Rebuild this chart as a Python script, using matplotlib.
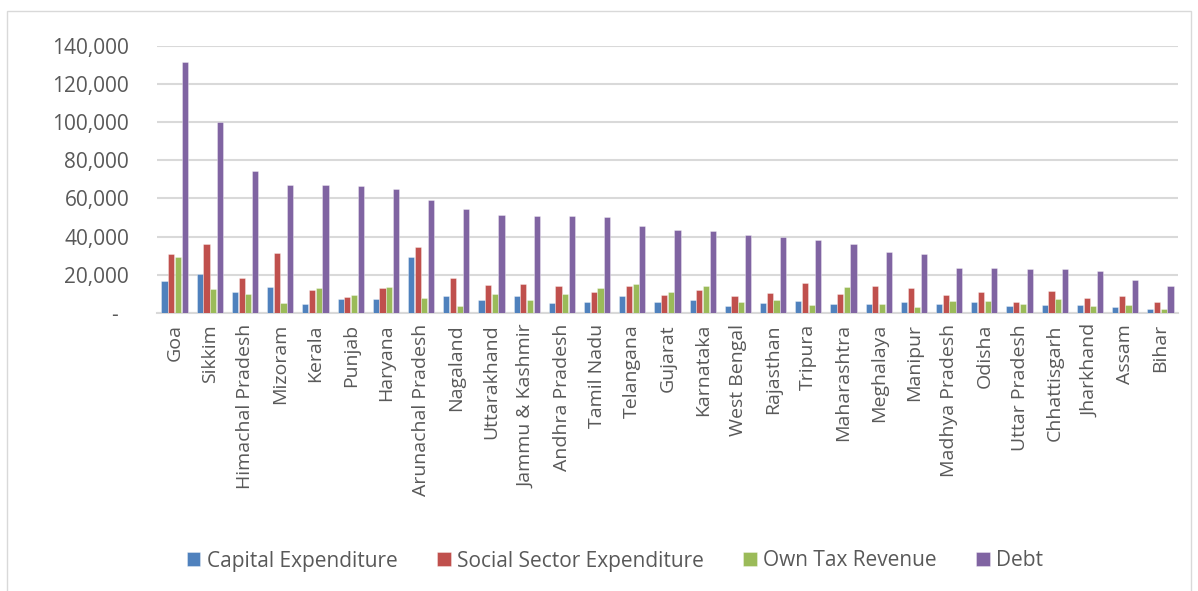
import matplotlib
matplotlib.use("Agg")
import matplotlib.pyplot as plt
import numpy as np
from matplotlib.ticker import FuncFormatter, MultipleLocator
from matplotlib.patches import Rectangle

states = ["Goa", "Sikkim", "Himachal Pradesh", "Mizoram", "Kerala", "Punjab", "Haryana",
          "Arunachal Pradesh", "Nagaland", "Uttarakhand", "Jammu & Kashmir", "Andhra Pradesh",
          "Tamil Nadu", "Telangana", "Gujarat", "Karnataka", "West Bengal", "Rajasthan",
          "Tripura", "Maharashtra", "Meghalaya", "Manipur", "Madhya Pradesh", "Odisha",
          "Uttar Pradesh", "Chhattisgarh", "Jharkhand", "Assam", "Bihar"]

capital_exp = [16900, 20600, 10800, 13800, 4900, 7200, 7200, 29100, 8900, 6800, 8900, 5400,
               5800, 8900, 5800, 6600, 3700, 5100, 6100, 4500, 4900, 5900, 4500, 5600,
               3700, 4300, 4200, 3300, 2300]
social_exp = [30700, 36000, 18200, 31200, 12000, 8200, 12900, 34700, 18500, 14800, 15200, 14000,
              10800, 14000, 9600, 12000, 8900, 10300, 15900, 9800, 14000, 13100, 9300, 10800,
              5800, 11700, 8000, 8900, 5800]
own_tax = [29100, 12600, 10100, 5100, 13300, 9400, 13800, 7700, 3700, 9900, 6600, 9900,
           12900, 15300, 10800, 14000, 5600, 6800, 4300, 13400, 4700, 3000, 6100, 6300,
           4700, 7200, 3800, 4200, 2300]
debt = [131600, 99800, 74300, 66800, 66800, 66300, 64700, 59200, 54300, 51300, 50900, 50600,
        50100, 45400, 43500, 42900, 40700, 39800, 38000, 36300, 31900, 30700, 23600, 23600,
        23000, 22900, 22000, 17400, 14100]

series = [("Capital Expenditure", capital_exp, "#4F81BD"),
          ("Social Sector Expenditure", social_exp, "#C0504D"),
          ("Own Tax Revenue", own_tax, "#9BBB59"),
          ("Debt", debt, "#8064A2")]

plt.rcParams['font.family'] = ['Open Sans', 'DejaVu Sans']
W, H = 1198, 591
fig = plt.figure(figsize=(W / 100, H / 100), dpi=100)
ax = fig.add_axes([157 / W, 1 - 313 / H, (1178 - 157) / W, (313 - 45.7) / H])

x = np.arange(len(states))
bw = 0.175
step = 0.19
for i, (name, vals, col) in enumerate(series):
    ax.bar(x + (i - 1.5) * step, vals, width=bw, color=col, label=name,
           edgecolor=(1, 1, 1, 0.6), linewidth=0.4, zorder=3)

ax.set_xlim(-0.5, len(states) - 0.5)
ax.set_ylim(0, 140000)
ax.yaxis.set_major_locator(MultipleLocator(20000))
ax.yaxis.set_major_formatter(FuncFormatter(lambda v, p: "-  " if v == 0 else f"{int(v):,}"))
ax.grid(axis='y', color='#D9D9D9', linewidth=1.5, zorder=0)
ax.set_axisbelow(True)
for s in ['top', 'right', 'left']:
    ax.spines[s].set_visible(False)
ax.spines['bottom'].set_color('#D9D9D9')
ax.spines['bottom'].set_linewidth(1.5)
ax.tick_params(axis='y', length=0, labelsize=15, labelcolor='#595959', pad=20)
ax.tick_params(axis='x', length=0, labelsize=14, labelcolor='#595959', pad=8)
ax.set_xticks(x)
ax.set_xticklabels(states, rotation=90)

handles, labels = ax.get_legend_handles_labels()
leg = fig.legend(handles, labels, loc='center', bbox_to_anchor=(615 / W, 1 - 561 / H),
                 ncol=4, frameon=False, fontsize=15, handlelength=0.65, handleheight=0.65,
                 handletextpad=0.3, columnspacing=1.9, labelcolor='#595959')

fig.patches.append(Rectangle((7 / W, -0.01), (1191 - 7) / W, (1 - 11 / H) + 0.01,
                             transform=fig.transFigure, fill=False,
                             edgecolor='#D9D9D9', linewidth=1.0))

fig.savefig("out.png", dpi=100)
